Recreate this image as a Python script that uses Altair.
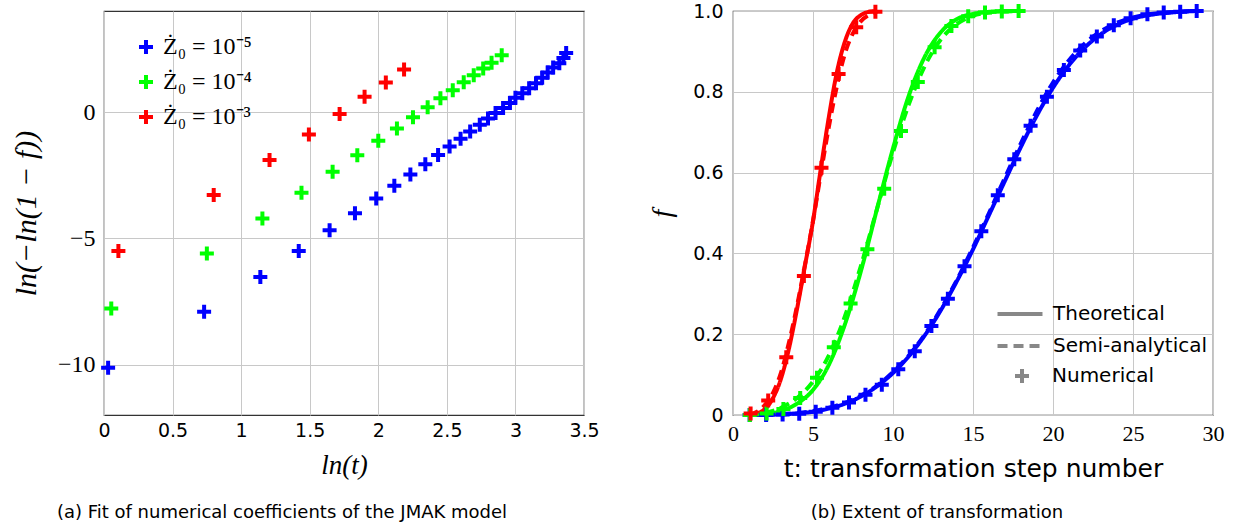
import altair as alt
import pandas as pd

# ---------------------------------------------------------------------------
# Series labels and colours (shared by both panels)
# ---------------------------------------------------------------------------
LABEL_E5 = "Ż₀ = 10⁻⁵"
LABEL_E4 = "Ż₀ = 10⁻⁴"
LABEL_E3 = "Ż₀ = 10⁻³"
series_labels = [LABEL_E5, LABEL_E4, LABEL_E3]
series_colors = ["#0000ff", "#00ff00", "#ff0000"]

# plus-shaped marker drawn as two stroked bars
PLUS = "M-1,0L1,0M0,-1L0,1"

# ---------------------------------------------------------------------------
# Panel (a): ln(-ln(1-f)) against ln(t)
# ---------------------------------------------------------------------------
lnt_e5 = [0.03, 0.73, 1.14, 1.42, 1.645, 1.83, 1.985, 2.117, 2.234, 2.343,
          2.436, 2.52, 2.60, 2.67, 2.74, 2.80, 2.855, 2.91, 2.96, 3.00,
          3.05, 3.10, 3.15, 3.195, 3.235, 3.275, 3.32, 3.35, 3.37]
jmak_e5 = [-10.13, -7.91, -6.53, -5.50, -4.68, -4.01, -3.43, -2.92, -2.48, -2.07,
           -1.70, -1.37, -1.06, -0.77, -0.50, -0.26, -0.04, 0.16, 0.36, 0.56,
           0.74, 0.94, 1.14, 1.36, 1.56, 1.76, 1.93, 2.14, 2.34]

lnt_e4 = [0.053, 0.75, 1.155, 1.44, 1.667, 1.847, 2.00, 2.136, 2.253, 2.36,
          2.453, 2.543, 2.623, 2.696, 2.765, 2.826, 2.90]
jmak_e4 = [-7.78, -5.60, -4.22, -3.20, -2.37, -1.71, -1.14, -0.65, -0.21, 0.19,
           0.54, 0.86, 1.18, 1.46, 1.72, 1.95, 2.25]

lnt_e3 = [0.105, 0.80, 1.207, 1.494, 1.718, 1.90, 2.055, 2.188]
jmak_e3 = [-5.50, -3.29, -1.90, -0.89, -0.08, 0.60, 1.17, 1.68]

# ---------------------------------------------------------------------------
# Panel (b): transformed fraction f against step number t
# ---------------------------------------------------------------------------
# numerical results
t_num_e5 = [1.04, 2.07, 3.1, 4.14, 5.17, 6.21, 7.25, 8.28, 9.3, 10.33,
            11.36, 12.4, 13.43, 14.47, 15.52, 16.55, 17.58, 18.6, 19.62, 20.68,
            21.7, 22.74, 23.8, 24.85, 25.9, 26.92, 27.95, 28.98]
f_num_e5 = [0.0, 0.0, 0.001, 0.003, 0.008, 0.018, 0.031, 0.05, 0.075, 0.113,
            0.158, 0.22, 0.288, 0.368, 0.455, 0.544, 0.633, 0.716, 0.788, 0.854,
            0.902, 0.937, 0.965, 0.982, 0.992, 0.996, 0.998, 1.0]

t_num_e4 = [1.05, 2.1, 3.15, 4.2, 5.25, 6.3, 7.35, 8.4, 9.45, 10.5,
            11.55, 12.6, 13.65, 14.7, 15.75, 16.8, 17.85]
f_num_e4 = [0.0, 0.004, 0.015, 0.042, 0.092, 0.168, 0.276, 0.41, 0.56, 0.703,
            0.824, 0.91, 0.963, 0.987, 0.996, 0.999, 1.0]

t_num_e3 = [1.1, 2.2, 3.33, 4.43, 5.53, 6.6, 7.7, 8.9]
f_num_e3 = [0.004, 0.036, 0.143, 0.344, 0.612, 0.844, 0.96, 0.998]

# theoretical and semi-analytical curves
t_curve_e3 = [1.0, 1.5, 2.0, 2.5, 3.0, 3.5, 4.0, 4.5, 5.0, 5.5, 6.0,
              6.5, 7.0, 7.5, 8.0, 8.5, 9.0]
f_theo_e3 = [0.0, 0.004, 0.015, 0.042, 0.09, 0.165, 0.262, 0.37, 0.48, 0.613,
             0.74, 0.85, 0.925, 0.97, 0.99, 0.998, 1.0]
f_semi_e3 = [0.0, 0.008, 0.025, 0.055, 0.105, 0.18, 0.27, 0.372, 0.48, 0.6,
             0.715, 0.815, 0.895, 0.945, 0.975, 0.99, 0.998]

t_curve_e4 = [1, 2, 3, 4, 5, 6, 7, 8, 9, 10, 11, 12, 13, 14, 15, 16, 17, 18]
f_theo_e4 = [0.0, 0.002, 0.01, 0.028, 0.062, 0.125, 0.225, 0.357, 0.51, 0.66,
             0.792, 0.888, 0.948, 0.98, 0.993, 0.998, 1.0, 1.0]
f_semi_e4 = [0.0, 0.005, 0.018, 0.042, 0.083, 0.148, 0.245, 0.37, 0.51, 0.65,
             0.77, 0.865, 0.93, 0.968, 0.988, 0.996, 0.999, 1.0]

t_curve_e5 = [1, 2, 3, 4, 5, 6, 7, 8, 9, 10, 11, 12, 13, 14, 15,
              16, 17, 18, 19, 20, 21, 22, 23, 24, 25, 26, 27, 28, 29]
f_theo_e5 = [0.0, 0.0005, 0.0015, 0.004, 0.008, 0.016, 0.028, 0.046, 0.071, 0.104,
             0.146, 0.198, 0.26, 0.332, 0.41, 0.495, 0.58, 0.664, 0.742, 0.81,
             0.866, 0.91, 0.943, 0.966, 0.981, 0.99, 0.995, 0.998, 1.0]
f_semi_e5 = [0.0, 0.0008, 0.002, 0.005, 0.01, 0.018, 0.03, 0.048, 0.073, 0.106,
             0.148, 0.2, 0.263, 0.335, 0.415, 0.5, 0.588, 0.673, 0.753, 0.823,
             0.878, 0.92, 0.95, 0.971, 0.984, 0.992, 0.996, 0.999, 1.0]


def frame(xs, ys, label, xname, yname, **extra):
    df = pd.DataFrame({xname: xs, yname: ys})
    df["series"] = label
    for k, v in extra.items():
        df[k] = v
    return df


color_scale = alt.Scale(domain=series_labels, range=series_colors)

SERIF = "Liberation Serif"
SANS = "DejaVu Sans"

PANEL_W = 480
PANEL_H = 404
GAP = 149
RIGHT_X0 = PANEL_W + GAP  # legends are placed in the concat's frame

# ---------------------------- panel (a) -----------------------------------
left_df = pd.concat([
    frame(lnt_e5, jmak_e5, LABEL_E5, "lnt", "val"),
    frame(lnt_e4, jmak_e4, LABEL_E4, "lnt", "val"),
    frame(lnt_e3, jmak_e3, LABEL_E3, "lnt", "val"),
], ignore_index=True)

left = alt.Chart(left_df).mark_point(
    shape=PLUS, filled=False, size=196, strokeWidth=4, opacity=1
).encode(
    x=alt.X("lnt:Q",
            scale=alt.Scale(domain=[0, 3.5], nice=False, zero=False),
            axis=alt.Axis(values=[0, 0.5, 1, 1.5, 2, 2.5, 3, 3.5],
                          labelExpr="format(datum.value, '~g')",
                          labelFlush=False, labelOverlap=False,
                          labelFont=SANS, labelFontSize=19, labelPadding=6,
                          title="ln(t)", titleFont=SERIF, titleFontStyle="italic",
                          titleFontSize=27, titlePadding=12)),
    y=alt.Y("val:Q",
            scale=alt.Scale(domain=[-12, 4], nice=False, zero=False),
            axis=alt.Axis(values=[-10, -5, 0],
                          labelFlush=False, labelOverlap=False,
                          labelFont=SERIF, labelFontSize=24, labelPadding=9,
                          title="ln(−ln(1 − f))", titleFont=SERIF,
                          titleFontStyle="italic", titleFontSize=30,
                          titlePadding=16)),
    color=alt.Color("series:N", scale=color_scale,
                    legend=alt.Legend(title=None, orient="none",
                                      legendX=30, legendY=24,
                                      symbolType=PLUS, symbolSize=196,
                                      symbolStrokeWidth=4,
                                      labelFont=SERIF, labelFontSize=24,
                                      labelOffset=5, rowPadding=5,
                                      padding=0, labelLimit=0)),
).properties(
    width=PANEL_W, height=PANEL_H,
    title=alt.TitleParams("(a) Fit of numerical coefficients of the JMAK model",
                          orient="bottom", anchor="middle", frame="group",
                          dx=-62, offset=26, font=SANS, fontSize=18,
                          fontWeight="normal", color="black"),
)

# ---------------------------- panel (b) -----------------------------------
theo_df = pd.concat([
    frame(t_curve_e5, f_theo_e5, LABEL_E5, "t", "f", curve="Theoretical"),
    frame(t_curve_e4, f_theo_e4, LABEL_E4, "t", "f", curve="Theoretical"),
    frame(t_curve_e3, f_theo_e3, LABEL_E3, "t", "f", curve="Theoretical"),
], ignore_index=True)
semi_df = pd.concat([
    frame(t_curve_e5, f_semi_e5, LABEL_E5, "t", "f", curve="Semi-analytical"),
    frame(t_curve_e4, f_semi_e4, LABEL_E4, "t", "f", curve="Semi-analytical"),
    frame(t_curve_e3, f_semi_e3, LABEL_E3, "t", "f", curve="Semi-analytical"),
], ignore_index=True)
num_df = pd.concat([
    frame(t_num_e5, f_num_e5, LABEL_E5, "t", "f", kind="Numerical"),
    frame(t_num_e4, f_num_e4, LABEL_E4, "t", "f", kind="Numerical"),
    frame(t_num_e3, f_num_e3, LABEL_E3, "t", "f", kind="Numerical"),
], ignore_index=True)

x_b = alt.X("t:Q",
            scale=alt.Scale(domain=[0, 30], nice=False),
            axis=alt.Axis(values=[0, 5, 10, 15, 20, 25, 30],
                          labelFlush=False, labelOverlap=False,
                          labelFont=SERIF, labelFontSize=22, labelPadding=8,
                          title="t: transformation step number",
                          titleFont=SANS, titleFontSize=25, titlePadding=12))
y_b = alt.Y("f:Q",
            scale=alt.Scale(domain=[0, 1], nice=False),
            axis=alt.Axis(values=[0, 0.2, 0.4, 0.6, 0.8, 1.0],
                          labelExpr="datum.value == 0 ? '0' : format(datum.value, '.1f')",
                          labelFlush=False, labelOverlap=False,
                          labelFont=SANS, labelFontSize=19, labelPadding=10,
                          title="f", titleFont=SERIF, titleFontStyle="italic",
                          titleFontSize=28, titlePadding=16))
color_b = alt.Color("series:N", scale=color_scale, legend=None)
dash_enc = alt.StrokeDash(
    "curve:N",
    scale=alt.Scale(domain=["Theoretical", "Semi-analytical"], range=[[1, 0], [10, 6]]),
    legend=alt.Legend(title=None, orient="none",
                      legendX=RIGHT_X0 + 272, legendY=288,
                      symbolType="M-1.73,0L1.73,0", symbolSize=676,
                      symbolStrokeWidth=4, symbolStrokeColor="#888888",
                      labelFont=SANS, labelFontSize=20, labelOffset=18,
                      rowPadding=7, padding=0, labelLimit=0),
)

theo = alt.Chart(theo_df).mark_line(strokeWidth=4, interpolate="monotone", color="#888888").encode(
    x=x_b, y=y_b, color=color_b, strokeDash=dash_enc)
semi = alt.Chart(semi_df).mark_line(strokeWidth=4, interpolate="monotone", color="#888888").encode(
    x=x_b, y=y_b, color=color_b, strokeDash=dash_enc)
nums = alt.Chart(num_df).mark_point(
    filled=False, size=196, strokeWidth=4, opacity=1, color="#888888"
).encode(
    x=x_b, y=y_b, color=color_b,
    shape=alt.Shape("kind:N",
                    scale=alt.Scale(domain=["Numerical"], range=[PLUS]),
                    legend=alt.Legend(title=None, orient="none",
                                      legendX=RIGHT_X0 + 279, legendY=355,
                                      symbolSize=196, symbolStrokeWidth=4,
                                      symbolStrokeColor="#888888",
                                      symbolFillColor="transparent",
                                      labelFont=SANS, labelFontSize=20,
                                      labelOffset=20, padding=0, labelLimit=0)),
)

right = alt.layer(theo, semi, nums).properties(
    width=PANEL_W, height=PANEL_H,
    title=alt.TitleParams("(b) Extent of transformation",
                          orient="bottom", anchor="middle", frame="group",
                          dx=-36, offset=23, font=SANS, fontSize=18,
                          fontWeight="normal", color="black"),
)

chart = alt.hconcat(left, right, spacing=GAP, bounds="flush").properties(
    padding={"left": 10, "top": -5, "right": 5, "bottom": 0},
    background="white",
).configure_view(
    stroke="#333333", strokeWidth=1.2,
).configure_axis(
    domain=False, ticks=False, grid=True, gridColor="#c8c8c8", gridWidth=1,
    labelColor="black", titleColor="black", titleFontWeight="normal",
)

chart.save("out.html", embed_options={"renderer": "svg", "actions": False})
